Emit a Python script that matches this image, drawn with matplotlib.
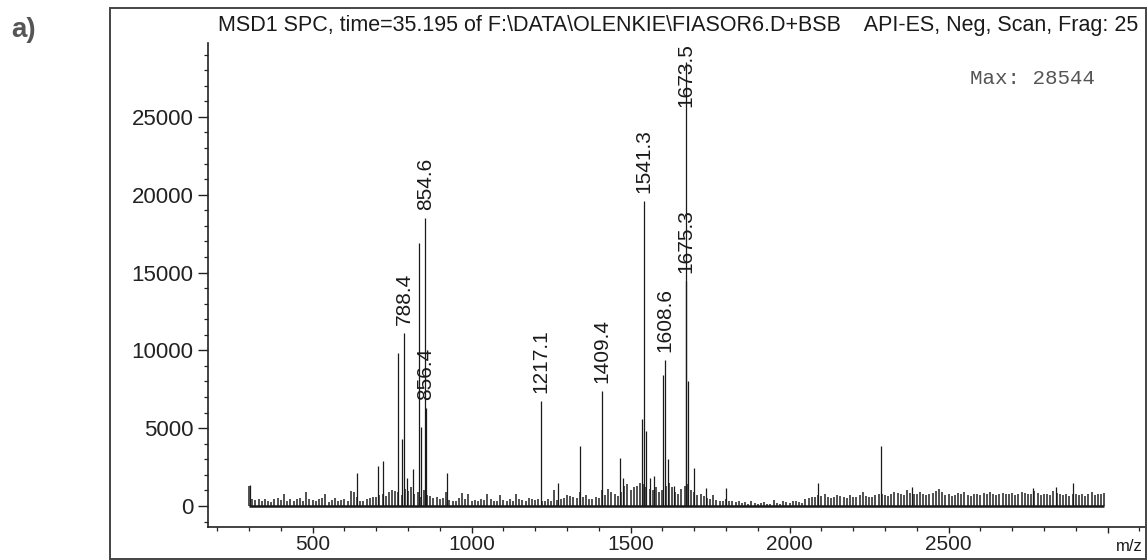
import matplotlib
matplotlib.use("Agg")
import matplotlib.pyplot as plt
from matplotlib.patches import Rectangle
from matplotlib.ticker import MultipleLocator, FixedLocator

plt.rcParams['font.family'] = ['Liberation Sans', 'DejaVu Sans']

# ---------------- data ----------------
# labelled peaks (m/z, abundance)
label_mz = [788.4, 854.6, 856.4, 1217.1, 1409.4, 1541.3, 1608.6, 1673.5, 1675.3]
label_int = [11100, 18500, 6300, 6750, 7400, 19600, 9400, 28544, 14450]

# other visible peaks (m/z, abundance)
peak_mz = [303, 640, 705, 721, 770, 780, 796, 816, 835, 841, 923, 1272, 1341,
           1467, 1476, 1536, 1549, 1560, 1574, 1602, 1618, 1635, 1681, 1700,
           1737, 1800, 2089, 2288, 2386, 2766, 2838, 2892]
peak_int = [1330, 2100, 2600, 2900, 9800, 4300, 1800, 2350, 16900, 5100, 2100,
            1500, 3850, 3100, 1830, 5600, 4840, 1830, 1935, 8400, 3000, 1290,
            8000, 2470, 1180, 1180, 1500, 3870, 1230, 1180, 1230, 1500]

# background noise, read every 10 m/z from 300 to 2990
noise_start = 300
noise_step = 10
noise_int = [
    1300, 450, 380, 420, 300, 460, 350, 280, 420, 500,
    380, 800, 320, 450, 300, 420, 520, 350, 900, 480,
    380, 300, 450, 520, 800, 280, 400, 520, 300, 360,
    420, 350, 960, 900, 600, 350, 300, 450, 520, 600,
    550, 700, 800, 650, 900, 1000, 950, 900, 700, 1100,
    950, 1200, 800, 900, 600, 1000, 700, 650, 500, 600,
    450, 500, 900, 400, 350, 300, 500, 860, 450, 750,
    300, 400, 350, 450, 380, 750, 420, 300, 350, 700,
    400, 350, 450, 300, 750, 420, 380, 300, 500, 450,
    380, 450, 300, 350, 420, 350, 1000, 400, 480, 520,
    700, 650, 600, 500, 900, 550, 700, 480, 450, 600,
    500, 1000, 700, 1100, 900, 800, 650, 900, 1300, 1400,
    1000, 1200, 1300, 1500, 1400, 1200, 1100, 1000, 1200, 900,
    1000, 1300, 1500, 1200, 900, 800, 1100, 1300, 1400, 1000,
    900, 700, 800, 650, 500, 450, 700, 400, 350, 300,
    450, 350, 300, 250, 350, 200, 250, 150, 300, 200,
    150, 200, 250, 100, 150, 400, 200, 120, 300, 250,
    200, 350, 300, 250, 200, 450, 500, 600, 550, 700,
    650, 800, 600, 500, 550, 700, 650, 600, 500, 700,
    550, 600, 700, 900, 650, 600, 550, 700, 750, 800,
    700, 650, 750, 900, 850, 800, 700, 1000, 850, 750,
    800, 900, 750, 700, 800, 850, 950, 1100, 900, 700,
    800, 650, 700, 850, 750, 900, 700, 650, 800, 750,
    700, 850, 800, 900, 750, 700, 800, 850, 750, 800,
    850, 700, 800, 900, 850, 750, 800, 950, 850, 700,
    800, 750, 700, 950, 850, 800, 700, 750, 650, 800,
    750, 700, 800, 650, 750, 900, 700, 750, 800, 850,
]
noise_mz = [noise_start + noise_step * i for i in range(len(noise_int))]

y_ticks = [0, 5000, 10000, 15000, 20000, 25000]
x_ticks = [500, 1000, 1500, 2000, 2500, 3000]
x_ticklabels = ['500', '1000', '1500', '2000', '2500', '']

title = ("MSD1 SPC, time=35.195 of F:\\DATA\\OLENKIE\\FIASOR6.D+BSB    "
         "API-ES, Neg, Scan, Frag: 25")
max_text = "Max: 28544"
panel_label = "a)"
x_label = "m/z"

# ---------------- figure ----------------
W, H = 1148, 560
fig = plt.figure(figsize=(W / 100, H / 100), dpi=100)

def fx(px):
    return px / W

def fy(py):
    return 1 - py / H

ax_l, ax_r, ax_t, ax_b = 208, 1146, 43, 527
ax = fig.add_axes([fx(ax_l), fy(ax_b), fx(ax_r) - fx(ax_l), fy(ax_t) - fy(ax_b)])
ax.set_xlim(171, 3121)
ax.set_ylim(-1350, 29750)

ink = '#1a1a1a'
# sticks
ax.vlines(noise_mz, 0, noise_int, color='#333333', lw=1.2)
ax.vlines(peak_mz, 0, peak_int, color=ink, lw=0.9)
ax.vlines(label_mz, 0, label_int, color=ink, lw=0.9)
ax.hlines(0, min(noise_mz), max(noise_mz), color=ink, lw=1.8)

# peak labels
texts = []
for m, v in zip(label_mz, label_int):
    t = ax.annotate(f"{m:.1f}", xy=(m, v), xytext=(0, 8 * 72 / 100),
                    textcoords='offset points', rotation=90, ha='center',
                    va='bottom', fontsize=15, color=ink)
    texts.append(t)

fig.canvas.draw()
r = fig.canvas.get_renderer()
ax_top_px = ax.get_window_extent(r).y1
for t in texts:
    bb = t.get_window_extent(r)
    if bb.y1 > ax_top_px:
        dx, dy = t.xyann
        t.xyann = (dx, dy - (bb.y1 - ax_top_px) * 72 / 100)

# spines & ticks
for s in ['top', 'right']:
    ax.spines[s].set_visible(False)
for s in ['left', 'bottom']:
    ax.spines[s].set_color('#222222')
    ax.spines[s].set_linewidth(1.2)

ax.yaxis.set_major_locator(FixedLocator(y_ticks))
ax.yaxis.set_minor_locator(MultipleLocator(1000))
ax.xaxis.set_major_locator(FixedLocator(x_ticks))
ax.xaxis.set_minor_locator(MultipleLocator(100))
ax.set_xticklabels(x_ticklabels)
ax.tick_params(axis='y', which='major', length=7, width=1.0, pad=3.5,
               labelsize=16, colors='#222222')
ax.tick_params(axis='y', which='minor', length=3, width=0.9, colors='#222222')
ax.tick_params(axis='x', which='major', length=4, width=1.0, pad=2,
               labelsize=15, colors='#222222')
ax.tick_params(axis='x', which='minor', length=3, width=0.9, colors='#222222')

# texts
fig.text(fx(218), fy(31), title, fontsize=15.5, color=ink, ha='left', va='baseline')
fig.text(fx(970), fy(84), max_text, fontsize=15, family='Liberation Mono',
         color='#555555', ha='left', va='baseline')
fig.text(fx(11), fy(37), panel_label, fontsize=20, fontweight='bold',
         color='#555555', ha='left', va='baseline')
fig.text(fx(1116), fy(539), x_label, fontsize=12, color=ink, ha='left', va='top')

# outer frame
frame = Rectangle((fx(110), fy(559)), fx(1146) - fx(110), fy(8) - fy(559),
                  transform=fig.transFigure, fill=False, edgecolor='#444444',
                  lw=1.4)
fig.add_artist(frame)

fig.savefig("out.png", dpi=100)
